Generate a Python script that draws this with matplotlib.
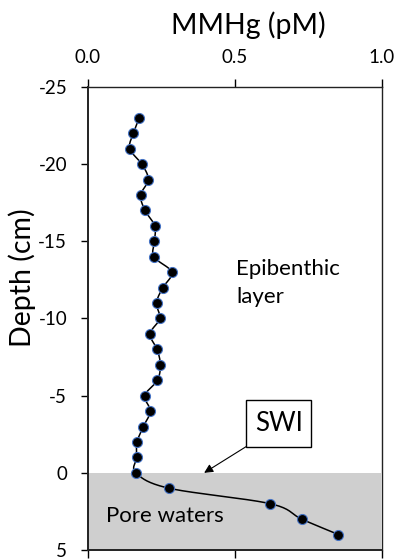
import numpy as np
import matplotlib.pyplot as plt
from matplotlib.patches import Rectangle

plt.rcParams['font.family'] = ['Lato', 'DejaVu Sans']
plt.rcParams['axes.unicode_minus'] = False

# MMHg profile (pM) vs depth (cm), negative = above sediment-water interface
depth = [-23, -22, -21, -20, -19, -18, -17, -16, -15, -14, -13, -12, -11, -10,
         -9, -8, -7, -6, -5, -4, -3, -2, -1, 0, 1, 2, 3, 4]
mmhg = [0.174, 0.154, 0.142, 0.183, 0.205, 0.179, 0.194, 0.227, 0.226, 0.224,
        0.285, 0.254, 0.233, 0.244, 0.211, 0.235, 0.246, 0.236, 0.193, 0.212,
        0.188, 0.167, 0.165, 0.163, 0.276, 0.620, 0.727, 0.852]
xticks = [0.0, 0.5, 1.0]
yticks = [-25, -20, -15, -10, -5, 0, 5]


def smooth(x, y, sx=295.0, sy=15.47, n=20):
    # excel-like smoothed line (bezier through points, done in screen scale)
    p = np.column_stack([np.asarray(x) * sx, np.asarray(y) * sy])
    out = [p[0]]
    t = np.linspace(0, 1, n)[1:, None]
    for i in range(len(p) - 1):
        p0 = p[max(i - 1, 0)]
        p3 = p[min(i + 2, len(p) - 1)]
        c1 = p[i] + (p[i + 1] - p0) / 6.0
        c2 = p[i + 1] - (p3 - p[i]) / 6.0
        seg = ((1 - t) ** 3) * p[i] + 3 * ((1 - t) ** 2) * t * c1 \
            + 3 * (1 - t) * t ** 2 * c2 + t ** 3 * p[i + 1]
        out.extend(seg)
    out = np.array(out)
    return out[:, 0] / sx, out[:, 1] / sy


fig = plt.figure(figsize=(4.01, 5.59), dpi=100)
ax = fig.add_axes([0.2195, 0.0161, 0.7331, 0.8283])

ax.axhspan(0, 5, xmin=0, xmax=0.995, color='#cfcfcf', lw=0, zorder=0)

sx, sy = smooth(mmhg, depth)
ax.plot(sx, sy, color='black', lw=1.1, zorder=2)
ax.plot(mmhg, depth, ls='none', marker='o', ms=7.2, mfc='black',
        mec='#4472c4', mew=0.8, zorder=3)

ax.set_xlim(0, 1.0)
ax.set_ylim(5, -25)
ax.set_xticks(xticks)
ax.set_xticklabels(['%.1f' % v for v in xticks])
ax.set_yticks(yticks)
ax.xaxis.tick_top()
ax.tick_params(axis='x', which='both', top=True, bottom=True, direction='out',
               length=6, width=1, labelsize=13.5, pad=9)
ax.tick_params(axis='y', direction='out', length=5, width=1, labelsize=13.5,
               pad=10, right=False)
for s in ax.spines.values():
    s.set_linewidth(1.0)
    s.set_color('#222222')
ax.spines['left'].set_linewidth(1.4)
ax.spines['bottom'].set_linewidth(1.4)

ax.text(0.545, 1.134, 'MMHg (pM)', transform=ax.transAxes, ha='center',
        va='center', fontsize=20.5)
ax.text(-0.224, 0.588, 'Depth (cm)', transform=ax.transAxes, ha='center',
        va='center', rotation=90, fontsize=20.5)

ax.text(0.503, -12.85, 'Epibenthic', fontsize=16, ha='left', va='baseline')
ax.text(0.503, -11.03, 'layer', fontsize=16, ha='left', va='baseline')
ax.text(0.061, 3.19, 'Pore waters', fontsize=16, ha='left', va='baseline')

ax.add_patch(Rectangle((0.538, -4.7), 0.222, 3.0, fc='white', ec='black',
                       lw=1.0, zorder=4))
ax.text(0.649, -3.2, 'SWI', fontsize=18.5, ha='center', va='center', zorder=5)
ax.annotate('', xy=(0.395, 0.0), xytext=(0.538, -1.7),
            arrowprops=dict(arrowstyle='-|>', color='black', lw=0.8,
                            mutation_scale=13, shrinkA=0, shrinkB=0),
            zorder=4)

fig.savefig('out.png', dpi=100)
